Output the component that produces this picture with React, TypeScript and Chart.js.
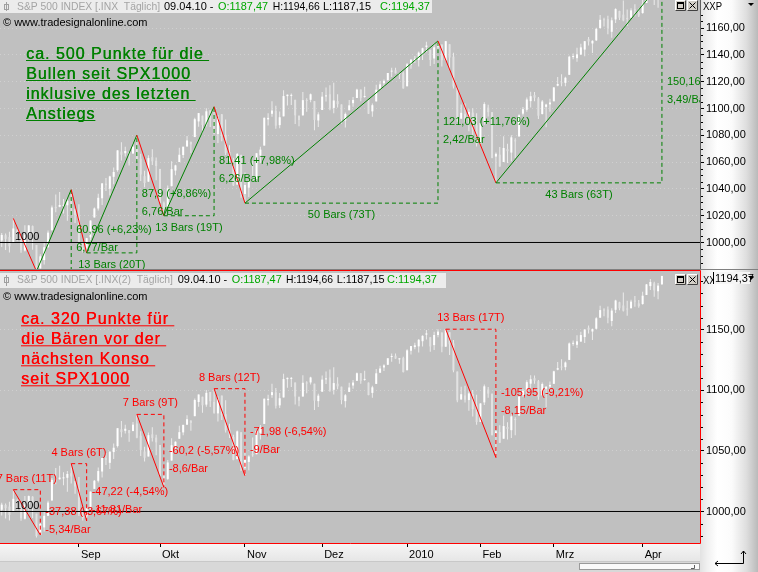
import React, { useEffect, useRef } from 'react';
import { Chart, registerables } from 'chart.js';

Chart.register(...registerables);

// ---------------- data ----------------
const monthYears = [2009, 2009, 2009, 2009, 2009, 2010, 2010, 2010, 2010];
const monthNums = [8, 9, 10, 11, 12, 1, 2, 3, 4];
const daysAug09 = [3, 4, 5, 6, 7, 10, 11, 12, 13, 14, 17, 18, 19, 20, 21, 24, 25, 26, 27, 28, 31];
const daysSep09 = [1, 2, 3, 4, 8, 9, 10, 11, 14, 15, 16, 17, 18, 21, 22, 23, 24, 25, 28, 29, 30];
const daysOct09 = [1, 2, 5, 6, 7, 8, 9, 12, 13, 14, 15, 16, 19, 20, 21, 22, 23, 26, 27, 28, 29, 30];
const daysNov09 = [2, 3, 4, 5, 6, 9, 10, 11, 12, 13, 16, 17, 18, 19, 20, 23, 24, 25, 27, 30];
const daysDec09 = [1, 2, 3, 4, 7, 8, 9, 10, 11, 14, 15, 16, 17, 18, 21, 22, 23, 24, 28, 29, 30, 31];
const daysJan10 = [4, 5, 6, 7, 8, 11, 12, 13, 14, 15, 19, 20, 21, 22, 25, 26, 27, 28, 29];
const daysFeb10 = [1, 2, 3, 4, 5, 8, 9, 10, 11, 12, 16, 17, 18, 19, 22, 23, 24, 25, 26];
const daysMar10 = [1, 2, 3, 4, 5, 8, 9, 10, 11, 12, 15, 16, 17, 18, 19, 22, 23, 24, 25, 26, 29, 30, 31];
const daysApr10 = [1, 5, 6, 7, 8, 9];
const tradingDayLists = [daysAug09, daysSep09, daysOct09, daysNov09, daysDec09, daysJan10, daysFeb10, daysMar10, daysApr10];

const monthLabels = ['Sep', 'Okt', 'Nov', 'Dez', '2010', 'Feb', 'Mrz', 'Apr'];

const opens = [
  990.22, 1001.41, 1005.41, 1004.06, 999.83, 1008.89, 1005.77, 994.0, 1005.86, 1012.23, 998.18, 980.62, 986.88, 996.41, 1009.06, 1026.59, 1026.63, 1027.35, 1027.81, 1031.62, 1025.21,
  1019.52, 996.07, 996.12, 1003.84, 1018.67, 1025.36, 1032.99, 1043.92, 1040.15, 1049.03, 1053.99, 1067.87, 1066.6, 1067.14, 1066.35, 1072.69, 1062.56, 1049.48, 1045.38, 1063.69, 1061.02,
  1054.91, 1029.71, 1026.87, 1042.02, 1053.65, 1060.03, 1065.28, 1071.63, 1074.96, 1078.68, 1090.36, 1094.67, 1088.22, 1098.64, 1090.36, 1080.96, 1095.62, 1080.36, 1067.54, 1061.51, 1043.19, 1065.41,
  1036.18, 1040.92, 1047.14, 1047.3, 1064.95, 1072.31, 1091.86, 1096.04, 1098.31, 1087.59, 1094.13, 1109.22, 1109.44, 1106.44, 1094.66, 1094.86, 1105.83, 1106.49, 1105.47, 1091.07,
  1098.89, 1109.03, 1110.59, 1100.43, 1105.52, 1103.04, 1091.07, 1098.69, 1103.96, 1107.84, 1114.11, 1108.61, 1106.36, 1097.86, 1105.31, 1114.51, 1118.84, 1121.08, 1127.53, 1128.55, 1125.53, 1126.6,
  1116.56, 1132.66, 1135.71, 1136.27, 1140.52, 1145.96, 1143.81, 1137.31, 1145.68, 1147.72, 1136.03, 1147.95, 1138.68, 1115.49, 1092.4, 1095.8, 1091.94, 1096.93, 1087.61,
  1073.89, 1090.05, 1100.67, 1097.25, 1064.12, 1065.51, 1060.06, 1069.68, 1067.1, 1075.95, 1079.13, 1096.14, 1099.03, 1105.49, 1110.0, 1107.49, 1095.89, 1101.24, 1103.1,
  1105.36, 1117.01, 1119.36, 1119.12, 1125.12, 1138.4, 1137.56, 1140.22, 1143.96, 1151.71, 1148.53, 1150.83, 1159.94, 1166.13, 1166.68, 1157.25, 1166.47, 1172.7, 1170.03, 1167.58, 1167.71, 1173.75, 1171.75,
  1171.23, 1178.71, 1186.01, 1188.23, 1181.75, 1187.47,
];
const highs = [
  1003.61, 1007.12, 1006.64, 1008.0, 1018.0, 1010.12, 1005.77, 1012.78, 1013.14, 1012.6, 998.18, 991.2, 999.61, 1008.92, 1027.59, 1035.82, 1037.75, 1032.47, 1033.33, 1039.47, 1025.21,
  1028.45, 1000.34, 1003.43, 1016.48, 1026.07, 1036.34, 1044.14, 1048.18, 1049.74, 1056.04, 1068.76, 1074.77, 1071.52, 1067.28, 1073.81, 1080.15, 1066.29, 1053.47, 1065.13, 1069.62, 1063.4,
  1054.91, 1030.6, 1042.58, 1060.55, 1058.02, 1070.67, 1071.51, 1079.46, 1075.3, 1093.17, 1096.56, 1094.67, 1100.17, 1098.64, 1101.36, 1095.21, 1095.83, 1091.75, 1072.48, 1063.26, 1066.83, 1065.41,
  1052.18, 1046.36, 1061.0, 1066.65, 1071.48, 1093.19, 1096.42, 1105.37, 1101.97, 1097.79, 1113.69, 1110.52, 1111.1, 1106.44, 1094.66, 1112.38, 1107.56, 1111.18, 1105.47, 1097.24,
  1112.28, 1115.58, 1117.28, 1119.13, 1110.72, 1103.04, 1097.04, 1106.25, 1108.5, 1114.76, 1114.11, 1116.21, 1106.36, 1103.74, 1117.68, 1120.27, 1121.58, 1126.48, 1130.38, 1130.38, 1126.42, 1127.64,
  1133.87, 1136.63, 1139.19, 1142.46, 1145.39, 1149.74, 1143.81, 1148.4, 1150.41, 1147.77, 1150.45, 1147.95, 1141.58, 1115.49, 1102.97, 1103.69, 1099.51, 1100.22, 1096.45,
  1089.38, 1104.73, 1102.72, 1097.25, 1067.13, 1071.2, 1079.28, 1073.67, 1080.04, 1077.81, 1095.67, 1101.03, 1108.24, 1112.42, 1112.29, 1108.58, 1106.42, 1103.5, 1107.24,
  1116.11, 1123.46, 1125.64, 1123.73, 1139.38, 1141.05, 1145.37, 1148.26, 1150.24, 1153.41, 1150.98, 1160.28, 1169.84, 1167.77, 1169.2, 1167.82, 1174.72, 1173.04, 1180.69, 1173.93, 1174.85, 1177.83, 1174.56,
  1181.43, 1187.73, 1191.8, 1189.6, 1188.55, 1194.66,
];
const lows = [
  990.22, 996.68, 994.31, 992.49, 999.83, 1000.99, 992.4, 993.36, 1000.82, 994.6, 978.51, 980.62, 983.5, 996.39, 1009.06, 1022.48, 1026.21, 1021.57, 1016.2, 1023.13, 1014.62,
  996.28, 992.6, 992.25, 1001.65, 1018.67, 1023.97, 1028.04, 1038.4, 1035.0, 1043.42, 1052.87, 1061.2, 1064.27, 1057.46, 1066.35, 1060.39, 1045.85, 1041.17, 1045.38, 1057.83, 1046.47,
  1029.45, 1019.95, 1025.92, 1042.02, 1050.1, 1060.03, 1063.0, 1071.63, 1066.71, 1078.68, 1086.41, 1081.53, 1086.48, 1086.16, 1080.77, 1074.31, 1075.49, 1065.23, 1060.62, 1042.19, 1043.19, 1033.38,
  1029.38, 1033.94, 1045.15, 1047.3, 1059.32, 1072.31, 1087.4, 1093.81, 1084.9, 1085.33, 1094.13, 1102.19, 1102.7, 1088.4, 1086.81, 1094.86, 1097.63, 1104.75, 1083.74, 1086.25,
  1098.89, 1105.29, 1098.74, 1096.52, 1100.83, 1088.61, 1085.89, 1098.69, 1101.34, 1107.84, 1105.35, 1107.96, 1095.88, 1093.88, 1105.31, 1114.51, 1116.0, 1121.08, 1123.51, 1126.08, 1121.94, 1114.81,
  1116.56, 1129.66, 1133.95, 1131.32, 1136.22, 1142.02, 1131.77, 1133.18, 1143.8, 1131.39, 1135.77, 1129.25, 1114.84, 1090.18, 1092.4, 1089.86, 1083.11, 1078.46, 1071.59,
  1073.89, 1087.96, 1093.97, 1062.78, 1044.5, 1056.51, 1060.06, 1059.34, 1060.59, 1062.97, 1079.13, 1094.72, 1097.48, 1100.8, 1105.38, 1092.18, 1095.5, 1086.02, 1097.56,
  1105.36, 1116.51, 1116.58, 1116.66, 1125.12, 1136.77, 1134.9, 1140.09, 1138.99, 1146.97, 1141.45, 1150.35, 1159.94, 1161.16, 1155.33, 1152.88, 1163.83, 1166.01, 1165.09, 1161.48, 1167.71, 1168.92, 1168.2,
  1170.69, 1178.71, 1182.77, 1177.25, 1175.12, 1187.15,
];
const closes = [
  1002.63, 1005.65, 1002.72, 997.08, 1010.48, 1007.1, 994.35, 1005.81, 1012.73, 1004.09, 979.73, 989.67, 996.46, 1007.37, 1026.13, 1025.57, 1028.0, 1028.12, 1030.98, 1028.93, 1020.62,
  998.04, 994.75, 1003.24, 1016.4, 1025.39, 1033.37, 1044.14, 1042.73, 1049.34, 1052.63, 1068.76, 1065.49, 1068.3, 1064.66, 1071.66, 1060.87, 1050.78, 1044.38, 1062.98, 1060.61, 1057.08,
  1029.85, 1025.21, 1040.46, 1054.72, 1057.58, 1065.48, 1071.49, 1076.19, 1073.19, 1092.02, 1096.56, 1087.68, 1097.91, 1091.06, 1081.4, 1092.91, 1079.6, 1066.95, 1063.41, 1042.63, 1066.11, 1036.19,
  1042.88, 1045.41, 1046.5, 1066.63, 1069.3, 1093.08, 1093.01, 1098.51, 1087.24, 1093.48, 1109.3, 1110.32, 1109.8, 1094.9, 1091.38, 1106.24, 1105.65, 1110.63, 1091.49, 1095.63,
  1108.86, 1109.24, 1099.92, 1105.98, 1103.25, 1091.94, 1095.95, 1102.35, 1106.41, 1114.11, 1107.93, 1109.18, 1096.08, 1102.47, 1114.05, 1118.02, 1120.59, 1126.48, 1127.78, 1126.2, 1126.42, 1115.1,
  1132.99, 1136.52, 1137.14, 1141.69, 1144.98, 1146.98, 1136.22, 1145.68, 1148.46, 1136.03, 1150.23, 1138.04, 1116.48, 1091.76, 1096.78, 1092.17, 1097.5, 1084.53, 1073.87,
  1089.19, 1103.32, 1097.28, 1063.11, 1066.19, 1056.74, 1070.52, 1068.13, 1078.47, 1075.51, 1094.87, 1099.51, 1106.75, 1109.17, 1108.01, 1094.6, 1105.24, 1102.94, 1104.49,
  1115.71, 1118.31, 1118.79, 1122.97, 1138.7, 1138.5, 1140.45, 1145.61, 1150.24, 1149.99, 1150.51, 1159.46, 1166.21, 1165.83, 1159.9, 1165.81, 1174.17, 1167.72, 1165.73, 1166.59, 1173.22, 1173.27, 1169.43,
  1178.1, 1187.44, 1189.44, 1182.45, 1186.44, 1194.37,
];

const topTicks = [1000, 1020, 1040, 1060, 1080, 1100, 1120, 1140, 1160];
const bottomTicks = [1000, 1050, 1100, 1150];
const levelValue = 1000;

// swing points of the bull zigzag (bar index, price)
const bullSwingIdx = [4, 10, 19, 23, 36, 43, 56, 64, 114, 129, 172];
const bullSwingVal = [1018.0, 978.51, 1039.47, 992.25, 1080.15, 1019.95, 1101.36, 1029.38, 1150.41, 1044.5, 1194.66];

// bear moves (from high to low)
const bearFromIdx = [4, 19, 36, 56, 116];
const bearFromVal = [1018.0, 1039.47, 1080.15, 1101.36, 1150.45];
const bearToIdx = [11, 23, 43, 64, 129];
const bearToVal = [980.62, 992.25, 1019.95, 1029.38, 1044.5];

const bullNote = ['ca. 500 Punkte für die ', 'Bullen seit SPX1000', 'inklusive des letzten ', 'Anstiegs'];
const bearNote = ['ca. 320 Punkte für ', 'die Bären vor der ', 'nächsten Konso ', 'seit SPX1000'];

const topTitle = 'S&P 500 INDEX [.INX  Täglich]';
const bottomTitle = 'S&P 500 INDEX [.INX(2)  Täglich]';
const copyright = '© www.tradesignalonline.com';
const axisName = 'XXP';

// ---------------- derived ----------------
const dayStamps: number[] = [];
const monthStartIdx: number[] = [];
tradingDayLists.forEach((days, m) => {
  if (m > 0) monthStartIdx.push(dayStamps.length);
  days.forEach((d) => dayStamps.push(Date.UTC(monthYears[m], monthNums[m] - 1, d)));
});
const lastIdx = closes.length - 1;

const deNum = (v: number) => {
  let s = v.toFixed(2);
  s = s.replace(/0+$/, '').replace(/\.$/, '');
  return s.replace('.', ',');
};
const de2 = (v: number) => v.toFixed(2).replace('.', ',');
const dayDiff = (a: number, b: number) => Math.round((dayStamps[b] - dayStamps[a]) / 86400000);
const lastDateStr = (() => {
  const d = new Date(dayStamps[lastIdx]);
  const p = (n: number) => String(n).padStart(2, '0');
  return `${p(d.getUTCDate())}.${p(d.getUTCMonth() + 1)}.${p(d.getUTCFullYear() % 100)}`;
})();

// ---------------- style ----------------
const FONT = '"Liberation Sans", Arial, Helvetica, sans-serif';
const W = 758;
const PLOT_R = 700;
const X_MIN = 0.555;
const X_MAX = 181.86;
const TOP_H = 269;
const BOT_H = 303;
const TOP_RANGE = [980.22, 1180.97];
const BOT_RANGE = [974.0, 1198.48];
const GREEN = '#008000';
const RED = '#ff0000';
const HDR_GREEN = '#00a800';
const BG = '#c0c0c0';
const UP = '#ffffff';
const DOWN = '#e2e2e2';
const WICK = '#ececec';

function candleDatasets() {
  const idx = closes.map((_, i) => i);
  return [
    {
      type: 'bar',
      data: idx.map((i) => ({ x: i, y: [lows[i], highs[i]] })),
      backgroundColor: WICK,
      barThickness: 1,
      grouped: false,
      order: 3,
      borderWidth: 0,
      inflateAmount: 0,
    },
    {
      type: 'bar',
      data: idx.map((i) => ({ x: i, y: [opens[i], closes[i]] })),
      backgroundColor: idx.map((i) => (closes[i] >= opens[i] ? UP : DOWN)),
      barThickness: 2,
      grouped: false,
      order: 2,
      borderWidth: 0,
      minBarLength: 1,
      inflateAmount: 0,
    },
  ];
}

function lineDs(data: any[], color: any, dash: number[] = [], extra: any = {}) {
  return {
    type: 'line',
    data,
    borderColor: color,
    borderWidth: 1,
    borderDash: dash,
    pointRadius: 0,
    pointHoverRadius: 0,
    fill: false,
    tension: 0,
    spanGaps: false,
    order: 1,
    ...extra,
  };
}

function levelData() {
  return [{ x: X_MIN, y: levelValue }, { x: X_MAX, y: levelValue }];
}

function paintBackground(ctx: any, h: number) {
  ctx.save();
  ctx.fillStyle = BG;
  ctx.fillRect(0, 0, PLOT_R, h);
  const g = ctx.createLinearGradient(PLOT_R, 0, W, 0);
  g.addColorStop(0, '#e2e2e2');
  g.addColorStop(0.12, '#f0f0f0');
  g.addColorStop(0.3, '#ffffff');
  g.addColorStop(0.55, '#fbfbfb');
  g.addColorStop(0.8, '#dedede');
  g.addColorStop(1, '#bababa');
  ctx.fillStyle = g;
  ctx.fillRect(PLOT_R, 0, W - PLOT_R, h);
  ctx.restore();
}

function drawMinorTicks(ctx: any, ys: any, step: number, major: number, top: number, bottom: number) {
  ctx.save();
  ctx.strokeStyle = '#000';
  ctx.lineWidth = 1;
  const start = Math.ceil(ys.min / step) * step;
  for (let v = start; v <= ys.max; v += step) {
    if (Math.abs(v % major) < 1e-6) continue;
    const y = Math.round(ys.getPixelForValue(v)) + 0.5;
    if (y < top || y > bottom) continue;
    ctx.beginPath();
    ctx.moveTo(PLOT_R + 1, y);
    ctx.lineTo(PLOT_R + 3, y);
    ctx.stroke();
  }
  ctx.restore();
}

function drawHeader(ctx: any, top: number, h: number, base: number, width: number, title: string, titleMax: number, xs: number[]) {
  ctx.save();
  ctx.fillStyle = '#ececec';
  ctx.fillRect(0, top, width, h);
  // small candle icon
  ctx.strokeStyle = '#a0a0a0';
  ctx.lineWidth = 1;
  ctx.beginPath();
  ctx.moveTo(6.5, top + 2);
  ctx.lineTo(6.5, top + h - 2);
  ctx.stroke();
  ctx.strokeRect(4.5, top + 4.5, 4, 5);
  ctx.font = `11px ${FONT}`;
  ctx.textAlign = 'left';
  ctx.textBaseline = 'alphabetic';
  ctx.fillStyle = '#a4a4a4';
  ctx.fillText(title, xs[0], base, titleMax);
  const parts: [string, string, number][] = [
    [`${lastDateStr} -`, '#000', 51],
    [`O:${de2(opens[lastIdx])}`, HDR_GREEN, 50],
    [`H:${de2(highs[lastIdx])}`, '#000', 47],
    [`L:${de2(lows[lastIdx])}`, '#000', 48],
    [`C:${de2(closes[lastIdx])}`, HDR_GREEN, 51],
  ];
  parts.forEach(([t, c, mw], k) => {
    ctx.fillStyle = c;
    ctx.fillText(t, xs[k + 1], base, mw);
  });
  ctx.restore();
}

function drawButtons(ctx: any, top: number) {
  ctx.save();
  [675, 687].forEach((x0, k) => {
    ctx.fillStyle = '#d4d0c8';
    ctx.fillRect(x0, top, 11, 11);
    ctx.strokeStyle = '#ffffff';
    ctx.beginPath();
    ctx.moveTo(x0 + 0.5, top + 10.5);
    ctx.lineTo(x0 + 0.5, top + 0.5);
    ctx.lineTo(x0 + 10.5, top + 0.5);
    ctx.stroke();
    ctx.strokeStyle = '#404040';
    ctx.beginPath();
    ctx.moveTo(x0 + 10.5, top + 0.5);
    ctx.lineTo(x0 + 10.5, top + 10.5);
    ctx.lineTo(x0 + 0.5, top + 10.5);
    ctx.stroke();
    ctx.strokeStyle = '#000';
    if (k === 0) {
      ctx.strokeRect(x0 + 2.5, top + 2.5, 6, 6);
      ctx.beginPath();
      ctx.moveTo(x0 + 2.5, top + 3.5);
      ctx.lineTo(x0 + 8.5, top + 3.5);
      ctx.stroke();
    } else {
      ctx.beginPath();
      ctx.moveTo(x0 + 2.5, top + 2.5);
      ctx.lineTo(x0 + 8.5, top + 8.5);
      ctx.moveTo(x0 + 8.5, top + 2.5);
      ctx.lineTo(x0 + 2.5, top + 8.5);
      ctx.stroke();
    }
  });
  ctx.restore();
}

function drawAxisName(ctx: any, base: number) {
  ctx.save();
  ctx.font = `11px ${FONT}`;
  ctx.fillStyle = '#000';
  ctx.textAlign = 'left';
  ctx.textBaseline = 'alphabetic';
  ctx.fillText(axisName, 703, base, 19);
  ctx.beginPath();
  ctx.moveTo(748, base - 7);
  ctx.lineTo(754, base - 7);
  ctx.lineTo(751, base - 4);
  ctx.closePath();
  ctx.fill();
  ctx.restore();
}

function drawNote(ctx: any, lines: string[], x: number, base0: number, color: string) {
  ctx.save();
  ctx.font = `16px ${FONT}`;
  ctx.fillStyle = color;
  ctx.textAlign = 'left';
  ctx.textBaseline = 'alphabetic';
  try {
    ctx.letterSpacing = '1px';
  } catch (e) {}
  lines.forEach((t, k) => {
    const yb = base0 + 20 * k;
    ctx.fillText(t, x, yb);
    ctx.fillText(t, x + 0.4, yb);
    const w = ctx.measureText(t).width;
    ctx.fillRect(x, yb + 1, w, 1);
  });
  ctx.restore();
}

function drawLevelLabel(ctx: any, ys: any) {
  ctx.save();
  ctx.font = `11px ${FONT}`;
  ctx.fillStyle = '#000';
  ctx.textAlign = 'left';
  ctx.textBaseline = 'alphabetic';
  ctx.fillText(String(levelValue), 15, ys.getPixelForValue(levelValue) - 2.5);
  ctx.restore();
}

function clipArea(ctx: any, ca: any) {
  ctx.beginPath();
  ctx.rect(ca.left, ca.top, ca.right - ca.left, ca.bottom - ca.top);
  ctx.clip();
}

// ---------------- top chart ----------------
const topPlugin = {
  id: 'topDeco',
  beforeDraw(chart: any) {
    paintBackground(chart.ctx, TOP_H);
  },
  afterDraw(chart: any) {
    const { ctx, chartArea: ca } = chart;
    const xs = chart.scales.x;
    const ys = chart.scales.y;
    ctx.save();
    clipArea(ctx, ca);
    ctx.font = `11px ${FONT}`;
    ctx.fillStyle = GREEN;
    ctx.textBaseline = 'middle';
    for (let k = 0; k < bullSwingIdx.length - 1; k++) {
      const a = bullSwingVal[k];
      const b = bullSwingVal[k + 1];
      if (b <= a) continue;
      const ia = bullSwingIdx[k];
      const ib = bullSwingIdx[k + 1];
      const xa = xs.getPixelForValue(ia);
      const xb = xs.getPixelForValue(ib);
      const ya = ys.getPixelForValue(a);
      const yb = ys.getPixelForValue(b);
      const d = b - a;
      const bars = ib - ia;
      const mid = (ya + yb) / 2;
      ctx.textAlign = 'left';
      ctx.fillText(`${deNum(d)} (+${deNum((d / a) * 100)}%)`, xb + 5, mid);
      ctx.fillText(`${deNum(d / bars)}/Bar`, xb + 5, mid + 18);
      ctx.textAlign = 'center';
      ctx.fillText(`${bars} Bars (${dayDiff(ia, ib)}T)`, (xa + xb) / 2, ya + 12);
    }
    ctx.restore();

    drawLevelLabel(ctx, ys);
    drawNote(ctx, bullNote, 26, 59, GREEN);
    drawHeader(ctx, 0, 13, 10, 432, topTitle, 143, [17, 164, 218, 272.7, 323, 380]);
    ctx.save();
    ctx.font = `11px ${FONT}`;
    ctx.fillStyle = '#000';
    ctx.fillText(copyright, 3, 26);
    ctx.restore();
    drawButtons(ctx, 0);

    // axis decorations
    ctx.save();
    ctx.strokeStyle = '#606060';
    ctx.beginPath();
    ctx.moveTo(PLOT_R + 0.5, 0);
    ctx.lineTo(PLOT_R + 0.5, TOP_H);
    ctx.stroke();
    ctx.restore();
    drawMinorTicks(ctx, ys, 5, 20, 14, TOP_H);
    drawAxisName(ctx, 10);
  },
};

function topConfig(): any {
  const zig = bullSwingIdx.map((x, k) => ({ x, y: bullSwingVal[k] }));
  const boxes: any[] = [];
  for (let k = 0; k < bullSwingIdx.length - 1; k++) {
    const a = bullSwingVal[k];
    const b = bullSwingVal[k + 1];
    if (b <= a) continue;
    const ia = bullSwingIdx[k];
    const ib = bullSwingIdx[k + 1];
    boxes.push({ x: ia, y: a }, { x: ib, y: a }, { x: ib, y: b }, { x: ib, y: null });
  }
  return {
    type: 'bar',
    data: {
      datasets: [
        lineDs(levelData(), '#000000', [], { order: 0 }),
        lineDs(zig, GREEN, [], {
          order: 0,
          segment: { borderColor: (c: any) => (c.p1.parsed.y >= c.p0.parsed.y ? GREEN : RED) },
        }),
        lineDs(boxes, GREEN, [4, 3], { order: 1 }),
        ...candleDatasets(),
      ],
    },
    options: {
      responsive: false,
      animation: false,
      devicePixelRatio: 1,
      events: [],
      layout: { padding: 0, autoPadding: false },
      plugins: { legend: { display: false }, tooltip: { enabled: false } },
      scales: {
        x: { type: 'linear', min: X_MIN, max: X_MAX, display: false, offset: false, grid: { offset: false } },
        y: {
          type: 'linear',
          position: 'right',
          min: TOP_RANGE[0],
          max: TOP_RANGE[1],
          afterBuildTicks: (s: any) => {
            s.ticks = topTicks.map((value) => ({ value }));
          },
          afterFit: (s: any) => {
            s.width = W - PLOT_R;
            s.paddingTop = 0;
            s.paddingBottom = 0;
          },
          ticks: {
            autoSkip: false,
            padding: 2,
            color: '#000',
            font: { family: FONT, size: 11 },
            callback: (v: any) => Number(v).toFixed(2).replace('.', ','),
          },
          grid: { color: '#d0d0d0', tickColor: '#000', tickLength: 4, lineWidth: 1 },
          border: { display: false, dash: [1, 3] },
        },
      },
    },
    plugins: [topPlugin],
  };
}

// ---------------- bottom chart ----------------
const botPlugin = {
  id: 'botDeco',
  beforeDraw(chart: any) {
    const { ctx, chartArea: ca } = chart;
    paintBackground(ctx, BOT_H);
    ctx.save();
    const g = ctx.createLinearGradient(0, ca.bottom, 0, ca.bottom + 18);
    g.addColorStop(0, '#f6f6f6');
    g.addColorStop(1, '#e6e6e6');
    ctx.fillStyle = g;
    ctx.fillRect(0, ca.bottom, PLOT_R, 18);
    ctx.fillStyle = '#d8d8d8';
    ctx.fillRect(0, ca.bottom + 18, PLOT_R, BOT_H - ca.bottom - 18);
    ctx.fillStyle = '#c8c8c8';
    ctx.fillRect(0, ca.bottom + 18, PLOT_R, 1);
    ctx.restore();
  },
  afterDraw(chart: any) {
    const { ctx, chartArea: ca } = chart;
    const xs = chart.scales.x;
    const ys = chart.scales.y;
    ctx.save();
    clipArea(ctx, ca);
    ctx.font = `11px ${FONT}`;
    ctx.fillStyle = RED;
    ctx.textBaseline = 'middle';
    bearFromIdx.forEach((ia, k) => {
      const ib = bearToIdx[k];
      const a = bearFromVal[k];
      const b = bearToVal[k];
      const xa = xs.getPixelForValue(ia);
      const xb = xs.getPixelForValue(ib);
      const ya = ys.getPixelForValue(a);
      const yb = ys.getPixelForValue(b);
      const d = a - b;
      const bars = ib - ia;
      const mid = (ya + yb) / 2;
      ctx.textAlign = 'left';
      ctx.fillText(`-${deNum(d)} (-${deNum((d / a) * 100)}%)`, xb + 5, mid);
      ctx.fillText(`-${deNum(d / bars)}/Bar`, xb + 5, mid + 18);
      ctx.textAlign = 'center';
      ctx.fillText(`${bars} Bars (${dayDiff(ia, ib)}T)`, (xa + xb) / 2, ya - 11);
    });
    ctx.restore();

    drawLevelLabel(ctx, ys);
    drawNote(ctx, bearNote, 21, 55.3, RED);
    drawHeader(ctx, 4, 15, 14.3, 446, bottomTitle, 156, [17, 177.7, 231.7, 286, 336.7, 387]);
    ctx.save();
    ctx.font = `11px ${FONT}`;
    ctx.fillStyle = '#000';
    ctx.fillText(copyright, 3, 31);
    ctx.restore();
    drawButtons(ctx, 5);

    // separator + red frame
    ctx.save();
    ctx.strokeStyle = '#808080';
    ctx.beginPath();
    ctx.moveTo(0, 0.5);
    ctx.lineTo(W, 0.5);
    ctx.stroke();
    ctx.strokeStyle = RED;
    ctx.beginPath();
    ctx.moveTo(0, ca.top - 0.5);
    ctx.lineTo(PLOT_R + 0.5, ca.top - 0.5);
    ctx.lineTo(PLOT_R + 0.5, ca.bottom + 0.5);
    ctx.lineTo(0, ca.bottom + 0.5);
    ctx.stroke();
    ctx.restore();
    drawMinorTicks(ctx, ys, 10, 50, ca.top, ca.bottom);
    drawAxisName(ctx, 15);

    // last price marker
    ctx.save();
    const py = ys.getPixelForValue(closes[lastIdx]);
    const bt = Math.max(ca.top + 1, py - 6);
    ctx.fillStyle = '#f6f6f6';
    ctx.fillRect(713, bt, 37, 12);
    ctx.strokeStyle = '#000';
    ctx.beginPath();
    ctx.moveTo(713.5, bt);
    ctx.lineTo(713.5, bt + 12);
    ctx.stroke();
    ctx.font = `11px ${FONT}`;
    ctx.fillStyle = '#000';
    ctx.textBaseline = 'middle';
    ctx.fillText(de2(closes[lastIdx]), 715, bt + 6.5);
    ctx.beginPath();
    ctx.moveTo(748, bt + 4);
    ctx.lineTo(754, bt + 4);
    ctx.lineTo(751, bt + 7);
    ctx.closePath();
    ctx.fill();
    ctx.restore();

    // scrollbar
    ctx.save();
    ctx.fillStyle = '#fafafa';
    ctx.fillRect(579, 295, 120, 5);
    ctx.strokeStyle = '#9a9a9a';
    ctx.strokeRect(579.5, 294.5, 120, 6);
    ctx.strokeStyle = '#606060';
    ctx.beginPath();
    ctx.moveTo(694.5, 296);
    ctx.lineTo(694.5, 299.5);
    ctx.lineTo(691, 299.5);
    ctx.stroke();
    // corner arrow icon
    ctx.strokeStyle = '#000';
    ctx.beginPath();
    ctx.moveTo(715, 294.5);
    ctx.lineTo(743.5, 294.5);
    ctx.lineTo(743.5, 282);
    ctx.moveTo(718, 292);
    ctx.lineTo(715, 294.5);
    ctx.lineTo(718, 297);
    ctx.moveTo(741, 285);
    ctx.lineTo(743.5, 282);
    ctx.lineTo(746, 285);
    ctx.stroke();
    ctx.restore();
  },
};

function botConfig(): any {
  const bearLines: any[] = [];
  const bearBoxes: any[] = [];
  bearFromIdx.forEach((ia, k) => {
    const ib = bearToIdx[k];
    bearLines.push({ x: ia, y: bearFromVal[k] }, { x: ib, y: bearToVal[k] }, { x: ib, y: null });
    bearBoxes.push(
      { x: ia, y: bearFromVal[k] },
      { x: ib, y: bearFromVal[k] },
      { x: ib, y: bearToVal[k] },
      { x: ib, y: null },
    );
  });
  return {
    type: 'bar',
    data: {
      datasets: [
        lineDs(levelData(), '#000000', [], { order: 0 }),
        lineDs(bearLines, RED, [], { order: 0 }),
        lineDs(bearBoxes, RED, [4, 3], { order: 1 }),
        ...candleDatasets(),
      ],
    },
    options: {
      responsive: false,
      animation: false,
      devicePixelRatio: 1,
      events: [],
      layout: { padding: { top: 2, left: 0, right: 0, bottom: 0 }, autoPadding: false },
      plugins: { legend: { display: false }, tooltip: { enabled: false } },
      scales: {
        x: {
          type: 'linear',
          position: 'bottom',
          min: X_MIN,
          max: X_MAX,
          offset: false,
          afterBuildTicks: (s: any) => {
            s.ticks = monthStartIdx.map((value) => ({ value }));
          },
          afterFit: (s: any) => {
            s.height = BOT_H - 2 - 272;
            s.paddingLeft = 0;
            s.paddingRight = 0;
          },
          ticks: {
            autoSkip: false,
            maxRotation: 0,
            minRotation: 0,
            align: 'start',
            labelOffset: 2,
            padding: 1,
            color: '#000',
            font: { family: FONT, size: 11 },
            callback: (_v: any, i: number) => monthLabels[i],
          },
          grid: { drawOnChartArea: false, offset: false, tickColor: '#000', tickLength: 4 },
          border: { display: false },
        },
        y: {
          type: 'linear',
          position: 'right',
          min: BOT_RANGE[0],
          max: BOT_RANGE[1],
          afterBuildTicks: (s: any) => {
            s.ticks = bottomTicks.map((value) => ({ value }));
          },
          afterFit: (s: any) => {
            s.width = W - PLOT_R;
            s.paddingTop = 0;
            s.paddingBottom = 0;
          },
          ticks: {
            autoSkip: false,
            padding: 2,
            color: '#000',
            font: { family: FONT, size: 11 },
            callback: (v: any) => Number(v).toFixed(2).replace('.', ','),
          },
          grid: { color: '#d0d0d0', tickColor: '#000', tickLength: 4, lineWidth: 1 },
          border: { display: false, dash: [1, 3] },
        },
      },
    },
    plugins: [botPlugin],
  };
}

export default function App() {
  const topRef = useRef<HTMLCanvasElement>(null);
  const botRef = useRef<HTMLCanvasElement>(null);
  useEffect(() => {
    const c1 = new Chart(topRef.current as HTMLCanvasElement, topConfig());
    const c2 = new Chart(botRef.current as HTMLCanvasElement, botConfig());
    return () => {
      c1.destroy();
      c2.destroy();
    };
  }, []);
  return (
    <div style={{ position: 'fixed', left: 0, top: 0, width: W, height: 572, overflow: 'hidden', background: BG }}>
      <canvas ref={topRef} width={W} height={TOP_H} style={{ position: 'absolute', left: 0, top: 0, width: W, height: TOP_H }} />
      <canvas ref={botRef} width={W} height={BOT_H} style={{ position: 'absolute', left: 0, top: TOP_H, width: W, height: BOT_H }} />
    </div>
  );
}
